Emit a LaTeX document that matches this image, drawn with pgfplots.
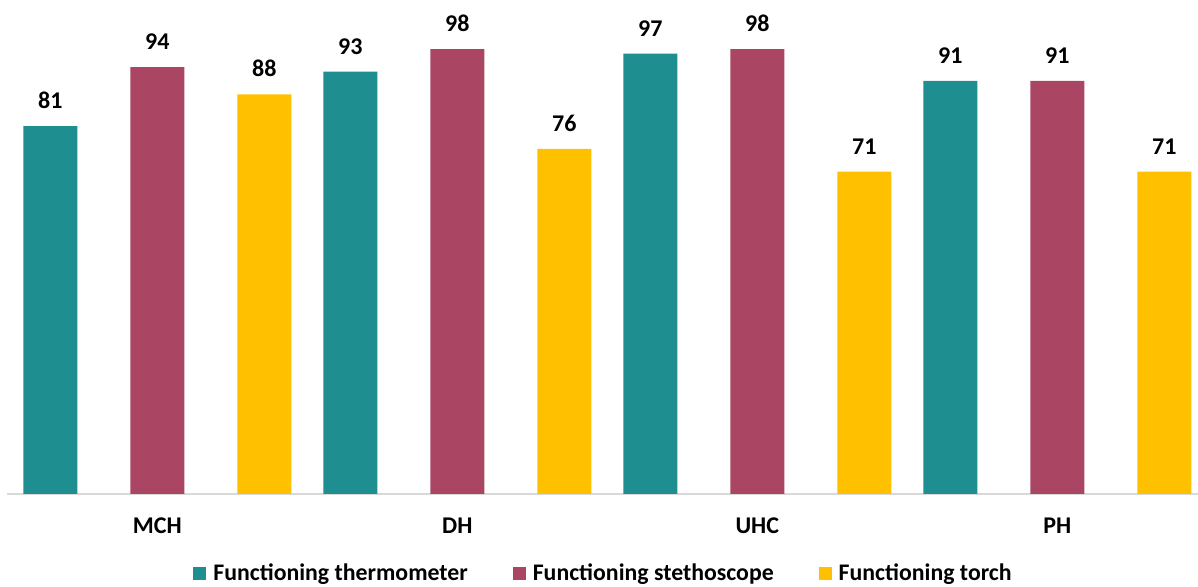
\documentclass[border=0pt]{standalone}
\usepackage{pgfplots}
\pgfplotsset{compat=1.18}
\usepackage{fontspec}
\setmainfont{Carlito}

\definecolor{thermo}{HTML}{1F8E91}
\definecolor{stetho}{HTML}{AA4564}
\definecolor{torch}{HTML}{FFC000}
\definecolor{baseline}{HTML}{D9D9D9}

\begin{document}
\begin{tikzpicture}
\useasboundingbox (-3.5pt,-46.5pt) rectangle (595.5pt,247pt);
\begin{axis}[
  at={(0,0)}, anchor=south west,
  scale only axis,
  width=595.5pt, height=247pt,
  xmin=-0.433, xmax=11.477,
  ymin=0, ymax=108.8,
  clip=false,
  /pgf/number format/assume math mode=true,
  axis y line=none,
  axis x line*=bottom,
  x axis line style={-, draw=baseline, line width=1pt},
  xtick={1.07,4.07,7.07,10.07},
  xticklabels={MCH,DH,UHC,PH},
  major tick length=0pt,
  xtick style={draw=none},
  xticklabel style={font=\bfseries\fontsize{12}{14}\selectfont, anchor=base, inner sep=0pt, yshift=-19.6pt},
  nodes near coords,
  every node near coord/.append style={font=\bfseries\fontsize{12}{14}\selectfont, anchor=base, inner sep=0pt, yshift=8.75pt, text=black},
  legend columns=3,
  legend style={
    at={(0.5,0)}, anchor=center, yshift=-39.75pt,
    draw=none, fill=none,
    font=\bfseries\fontsize{11.9}{13}\selectfont,
    nodes={inner sep=0pt, anchor=west},
    /tikz/every odd column/.style={column sep=3.5pt},
    /tikz/every even column/.style={column sep=22.5pt},
  },
]
% thermometers
\addplot[ybar, bar width=0.54, bar shift=0pt, fill=thermo, draw=none,
  legend image code/.code={\fill[thermo] (0pt,-3.25pt) rectangle (6.5pt,3.25pt);}]
  coordinates {(0,81) (3,93) (6,97) (9,91)};
\addlegendentry{Functioning thermometer}
% stethoscopes
\addplot[ybar, bar width=0.54, bar shift=0pt, fill=stetho, draw=none,
  legend image code/.code={\fill[stetho] (0pt,-3.25pt) rectangle (6.5pt,3.25pt);}]
  coordinates {(1.07,94) (4.07,98) (7.07,98) (10.07,91)};
\addlegendentry{Functioning stethoscope}
% torches
\addplot[ybar, bar width=0.54, bar shift=0pt, fill=torch, draw=none,
  legend image code/.code={\fill[torch] (0pt,-3.25pt) rectangle (6.5pt,3.25pt);}]
  coordinates {(2.14,88) (5.14,76) (8.14,71) (11.14,71)};
\addlegendentry{Functioning torch}
\end{axis}
\end{tikzpicture}
\end{document}
